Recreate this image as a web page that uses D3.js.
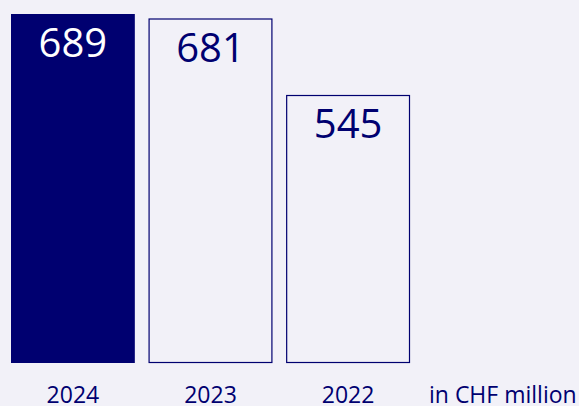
<!DOCTYPE html>
<html>
<head>
<meta charset="utf-8">
<script src="https://cdn.jsdelivr.net/npm/d3@7"></script>
<style>
  html, body { margin: 0; padding: 0; background: #f2f1f8; }
  svg { display: block; }
</style>
</head>
<body>
<svg id="chart"></svg>
<script>
// chart values
var years = ["2024", "2023", "2022"];
var values = [689, 681, 545];
var unitLabel = "in CHF million";

var width = 579, height = 406;
var navy = "#000070";

var svg = d3.select("#chart")
    .attr("width", width)
    .attr("height", height);

var x = d3.scaleBand()
    .domain(years)
    .range([11, 410])
    .paddingInner(0.1)
    .paddingOuter(0);

// bars do not start at zero in the original, base sits around 68
var y = d3.scaleLinear()
    .domain([68.6, 689])
    .range([363, 14]);

svg.selectAll("rect.bar")
    .data(values)
    .enter().append("rect")
    .attr("class", "bar")
    .attr("x", function (d, i) { return i == 0 ? x(years[i]) : x(years[i]) + 0.5; })
    .attr("y", function (d, i) { return i == 0 ? y(d) : y(d) + 0.5; })
    .attr("width", function (d, i) { return i == 0 ? x.bandwidth() : x.bandwidth() - 1; })
    .attr("height", function (d, i) { return i == 0 ? y.range()[0] - y(d) : y.range()[0] - y(d) - 1; })
    .attr("fill", function (d, i) { return i == 0 ? navy : "none"; })
    .attr("stroke", function (d, i) { return i == 0 ? "none" : navy; })
    .attr("stroke-width", 1.2);

svg.selectAll("text.val")
    .data(values)
    .enter().append("text")
    .attr("class", "val")
    .attr("x", function (d, i) { return x(years[i]) + x.bandwidth() / 2; })
    .attr("y", function (d) { return y(d) + 43; })
    .attr("text-anchor", "middle")
    .style("font-family", "'Open Sans', sans-serif")
    .style("font-size", "40px")
    .style("fill", function (d, i) { return i == 0 ? "#ffffff" : navy; })
    .text(function (d) { return d; });

var xAxis = d3.axisBottom(x).tickSize(0).tickPadding(0);
var gx = svg.append("g")
    .attr("transform", "translate(0,386)")
    .call(xAxis);
gx.select(".domain").remove();
gx.selectAll("text")
    .attr("dy", "0.76em")
    .style("font-family", "'Open Sans', sans-serif")
    .style("font-size", "23px")
    .style("fill", navy);

svg.append("text")
    .attr("x", 429)
    .attr("y", 386)
    .attr("dy", "0.76em")
    .style("font-family", "'Open Sans', sans-serif")
    .style("font-size", "23px")
    .style("fill", navy)
    .text(unitLabel);
</script>
</body>
</html>
